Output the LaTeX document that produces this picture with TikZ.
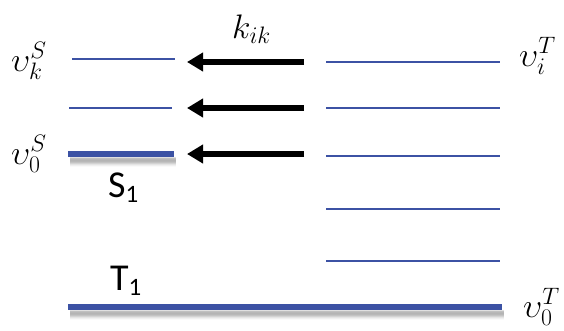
\RequirePackage{fix-cm}
\documentclass[tikz,border=0pt]{standalone}
\usepackage{fontspec}
\setsansfont{Carlito}
\usetikzlibrary{arrows.meta}
\definecolor{levelblue}{RGB}{60,82,164}
\tikzset{
  level/.style={levelblue, line width=2pt},
  ground/.style={levelblue, line width=6.5pt},
  transfer/.style={line width=5.5pt, -{Triangle[length=16pt,width=18pt]}},
  mathlabel/.style={font=\fontsize{34}{34}\selectfont, inner sep=0pt, anchor=base west},
  statelabel/.style={font=\sffamily\fontsize{38}{38}\selectfont, inner sep=0pt, anchor=base west}
}
\newcommand{\groundshadow}[3]{%
  \foreach \d/\o in {2/0.12,3/0.14,4/0.16,5/0.16,6/0.14,7/0.11,8/0.07,9/0.04,10/0.02}{
    \draw[black, opacity=\o, line width=1.2pt] (#1,#3+\d) -- (#2,#3+\d);
  }}
\newcommand{\statesub}[1]{\raisebox{-5pt}{\fontsize{25}{25}\selectfont #1}}
\begin{document}
\begin{tikzpicture}[x=1pt,y=-1pt]
\useasboundingbox (0,0) rectangle (564,330);

% singlet manifold
\groundshadow{70}{176}{156}
\draw[level] (72,59) coordinate (s2l) -- (175,59) coordinate (s2);
\draw[level] (69,108) coordinate (s1l) -- (172,108) coordinate (s1);
\draw[ground] (68,154) coordinate (s0l) -- (174,154) coordinate (s0);

% triplet manifold
\draw[level] (326,62) coordinate (t5) -- (500,62);
\draw[level] (326,108) coordinate (t4) -- (500,108);
\draw[level] (326,156) coordinate (t3) -- (500,156);
\draw[level] (326,209) coordinate (t2) -- (500,209);
\draw[level] (326,261) coordinate (t1) -- (500,261);
\groundshadow{70}{504}{309}
\draw[ground] (68,307) coordinate (t0l) -- (502,307) coordinate (t0);

% reverse intersystem crossing arrows
\coordinate (a2s) at (304,62);  \coordinate (a2e) at (187,62);
\coordinate (a1s) at (304,108); \coordinate (a1e) at (187,108);
\coordinate (a0s) at (304,154); \coordinate (a0e) at (187,154);
\draw[transfer] (a2s) -- (a2e);
\draw[transfer] (a1s) -- (a1e);
\draw[transfer] (a0s) -- (a0e);

% labels
\node[mathlabel] (kik) at (232,38) {$k_{ik}$};
\node[mathlabel] (vkS) at (11,71) {$\upsilon_k^S$};
\node[mathlabel] (v0S) at (11,164) {$\upsilon_0^S$};
\node[mathlabel] (viT) at (519,66) {$\upsilon_i^T$};
\node[mathlabel] (v0T) at (523,317) {$\upsilon_0^T$};
\node[statelabel] (S1) at (108,197) {S\statesub{1}};
\node[statelabel] (T1) at (110,290) {T\statesub{1}};
\end{tikzpicture}
\end{document}
